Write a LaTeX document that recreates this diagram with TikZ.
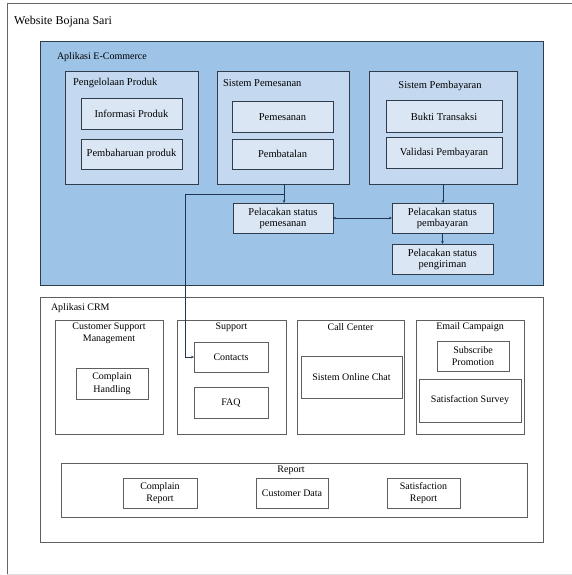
\documentclass[tikz,border=0pt]{standalone}
\usepackage{fontspec}
\setmainfont{Liberation Serif}
\usetikzlibrary{arrows.meta}
\definecolor{ecouter}{HTML}{9DC3E6}
\definecolor{ecmid}{HTML}{C4D9F0}
\definecolor{ecinner}{HTML}{DAE6F4}
\definecolor{ecline}{HTML}{2E3C4C}
\definecolor{crmline}{HTML}{5F5F5F}
\definecolor{conline}{HTML}{1F3550}
\begin{document}
\begin{tikzpicture}[x=1pt,y=-1pt,
  ecbig/.style={draw=ecline, fill=ecouter, line width=1pt, inner sep=0pt, outer sep=0pt},
  ecmidbox/.style={draw=ecline, fill=ecmid, line width=1pt, inner sep=0pt, outer sep=0pt},
  ecinbox/.style={draw=ecline, fill=ecinner, line width=1pt, inner sep=0pt, outer sep=0pt, align=center, font=\fontsize{10.5}{11}\selectfont},
  crmbox/.style={draw=crmline, fill=white, line width=1pt, inner sep=0pt, outer sep=0pt, align=center, font=\fontsize{10}{12.5}\selectfont},
  ttl/.style={inner sep=0pt, outer sep=0pt, align=center, font=\fontsize{10.5}{12.5}\selectfont},
  crmttl/.style={inner sep=0pt, outer sep=0pt, align=center, font=\fontsize{10}{12.5}\selectfont},
  con/.style={draw=conline, line width=0.8pt},
  arr/.style={con, -{Stealth[length=3pt,width=2.5pt]}},
  darr/.style={con, {Stealth[length=3pt,width=2.5pt]}-{Stealth[length=3pt,width=2.5pt]}}
]
\useasboundingbox (0,0) rectangle (572,575);
\fill[white] (0,0) rectangle (572,575);
% outer frame
\draw[draw=gray!80!black, line width=1pt] (7,575) -- (7,4) -- (572,4);
\draw[draw=gray!25, line width=0.8pt] (7,574) -- (572,574);
\node[inner sep=0pt, anchor=west, font=\fontsize{12}{14}\selectfont] (site) at (14,22) {Website Bojana Sari};

% E-Commerce
\node[ecbig, minimum width=503pt, minimum height=243pt] (ecom) at (291.5,163.5) {};
\node[ttl, anchor=west, font=\fontsize{10}{12}\selectfont] (ecomt) at (57,57) {Aplikasi E-Commerce};

\node[ecmidbox, minimum width=133pt, minimum height=112pt] (pp) at (131.5,128) {};
\node[ttl, anchor=west] (ppt) at (73,83) {Pengelolaan Produk};
\node[ecinbox, minimum width=101pt, minimum height=30pt] (info) at (131.5,114) {Informasi Produk};
\node[ecinbox, minimum width=101pt, minimum height=30pt] (pbh) at (131.5,154) {Pembaharuan produk};

\node[ecmidbox, minimum width=132pt, minimum height=112pt] (sps) at (283,128) {};
\node[ttl, anchor=west] (spst) at (223,83) {Sistem Pemesanan};
\node[ecinbox, minimum width=101pt, minimum height=30pt] (pes) at (282.5,117) {Pemesanan};
\node[ecinbox, minimum width=101pt, minimum height=30pt] (bat) at (282.5,154) {Pembatalan};

\node[ecmidbox, minimum width=148pt, minimum height=112pt] (spb) at (443,128) {};
\node[ttl] (spbt) at (440,86) {Sistem Pembayaran};
\node[ecinbox, minimum width=116pt, minimum height=31pt] (bukti) at (444,116.5) {Bukti Transaksi};
\node[ecinbox, minimum width=116pt, minimum height=31pt] (valid) at (444,152.5) {Validasi Pembayaran};

\node[ecinbox, minimum width=100pt, minimum height=30pt] (ps1) at (283,218) {Pelacakan status\\pemesanan};
\node[ecinbox, minimum width=101pt, minimum height=30pt] (ps2) at (442.5,218) {Pelacakan status\\pembayaran};
\node[ecinbox, minimum width=101pt, minimum height=30pt] (ps3) at (442.5,259) {Pelacakan status\\pengiriman};

% CRM
\node[crmbox, minimum width=503pt, minimum height=245pt] (crm) at (291.5,419.5) {};
\node[crmttl, anchor=west] (crmt) at (51,308) {Aplikasi CRM};

\node[crmbox, minimum width=108pt, minimum height=114pt] (csm) at (109,377) {};
\node[crmttl] (csmt) at (109,333.5) {Customer Support\\Management};
\node[crmbox, minimum width=72pt, minimum height=31pt] (ch) at (112,383.5) {Complain\\Handling};

\node[crmbox, minimum width=109pt, minimum height=114pt] (sup) at (231.5,377) {};
\node[crmttl] (supt) at (231.5,327) {Support};
\node[crmbox, minimum width=74pt, minimum height=30pt] (contacts) at (231,357) {Contacts};
\node[crmbox, minimum width=74pt, minimum height=31pt] (faq) at (231,402.5) {FAQ};

\node[crmbox, minimum width=107pt, minimum height=114pt] (cc) at (350.5,377) {};
\node[crmttl] (cct) at (350.5,327) {Call Center};
\node[crmbox, minimum width=101pt, minimum height=42pt] (soc) at (351.5,377) {Sistem Online Chat};

\node[crmbox, minimum width=108pt, minimum height=114pt] (ec) at (470,377) {};
\node[crmttl] (ect) at (470,327) {Email Campaign};
\node[crmbox, minimum width=72pt, minimum height=30pt] (subs) at (473,356) {Subscribe\\Promotion};
\node[crmbox, minimum width=102pt, minimum height=43pt] (ss) at (470,400.5) {Satisfaction Survey};

\node[crmbox, minimum width=466pt, minimum height=54pt] (rep) at (294,490) {};
\node[crmttl] (rept) at (291,470) {Report};
\node[crmbox, minimum width=74pt, minimum height=30pt] (cr) at (160,493) {Complain\\Report};
\node[crmbox, minimum width=72pt, minimum height=30pt] (cd) at (292,493) {Customer Data};
\node[crmbox, minimum width=73pt, minimum height=30pt] (sr) at (423.5,493) {Satisfaction\\Report};

% connectors
\coordinate (j1) at (284,194);
\coordinate (j2) at (185,194);
\coordinate (j3) at (185,357);
\draw[con] (sps.south -| j1) -- (j1);
\draw[arr] (j1) -- (ps1.north -| j1);
\draw[arr] (j1) -- (j2) -- (j3) -- (contacts.west);
\draw[arr] (spb.south) -- (ps2.north -| spb.south);
\draw[darr] (ps1.east) -- (ps2.west);
\draw[arr] (ps2.south) -- (ps3.north);
\end{tikzpicture}
\end{document}
